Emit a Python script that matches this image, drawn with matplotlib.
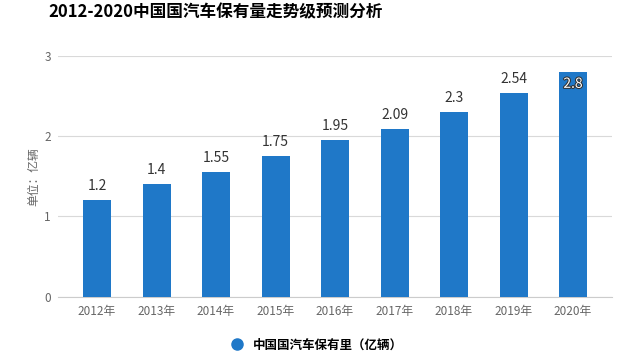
import matplotlib.pyplot as plt
import matplotlib.patheffects as pe
from matplotlib.lines import Line2D

plt.rcParams['font.family'] = ['Noto Sans CJK SC', 'DejaVu Sans']

years = ['2012年', '2013年', '2014年', '2015年', '2016年',
         '2017年', '2018年', '2019年', '2020年']
values = [1.2, 1.4, 1.55, 1.75, 1.95, 2.09, 2.3, 2.54, 2.8]
value_labels = ['1.2', '1.4', '1.55', '1.75', '1.95', '2.09', '2.3', '2.54', '2.8']

bar_color = '#1f78c8'
grey = '#666666'

fig = plt.figure(figsize=(6.28, 3.61), dpi=100)
ax = fig.add_axes([0.092, 0.178, 0.883, 0.667])

x = range(len(years))
ax.bar(x, values, width=0.47, color=bar_color, zorder=3)

for i, (v, lab) in enumerate(zip(values, value_labels)):
    if v > 2.7:
        ax.text(i, v - 0.06, lab, ha='center', va='top', fontsize=10,
                color='white', zorder=4,
                path_effects=[pe.withStroke(linewidth=1.5, foreground='#333333')])
    else:
        ax.text(i, v + 0.09, lab, ha='center', va='bottom', fontsize=10,
                color='#333333', zorder=4)

ax.set_xlim(-0.66, 8.66)
ax.set_ylim(0, 3)
ax.set_yticks([0, 1, 2, 3])
ax.set_xticks(list(x))
ax.set_xticklabels(years)
ax.tick_params(axis='both', length=0, labelsize=8.5, labelcolor=grey)
ax.tick_params(axis='x', pad=6)
ax.tick_params(axis='y', pad=5)
ax.grid(axis='y', color='#d9d9d9', linewidth=0.8, zorder=0)
for s in ax.spines.values():
    s.set_visible(False)
ax.spines['bottom'].set_visible(True)
ax.spines['bottom'].set_color('#cccccc')
ax.set_ylabel('单位：亿辆', fontsize=8.5, color=grey, labelpad=3)

fig.text(0.077, 0.99, '2012-2020中国国汽车保有量走势级预测分析', ha='left', va='top',
         fontsize=12, fontweight='bold', color='black')

handle = Line2D([], [], marker='o', linestyle='none', markersize=8,
                markerfacecolor=bar_color, markeredgecolor=bar_color)
fig.legend([handle], ['中国国汽车保有里（亿辆）'], loc='center',
           bbox_to_anchor=(0.5, 0.045), frameon=False, handletextpad=0.3,
           prop={'size': 9, 'weight': 'bold'})

fig.savefig('out.png', dpi=100)
